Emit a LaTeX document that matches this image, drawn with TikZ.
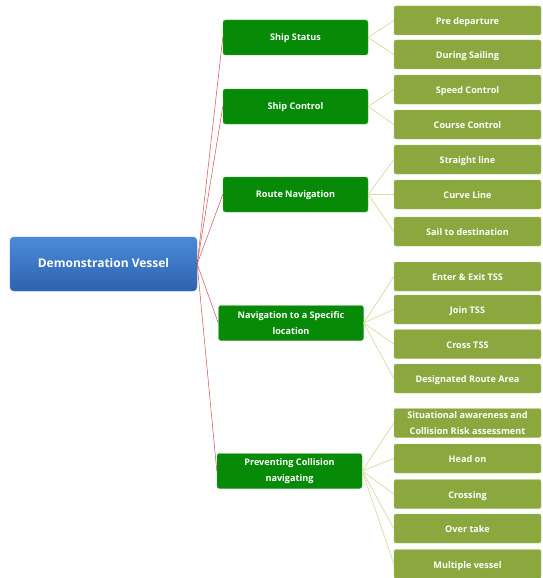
\documentclass[tikz,border=0pt]{standalone}
\usepackage{fontspec}
\setmainfont{Open Sans}
\definecolor{rootTop}{HTML}{4A8BDA}
\definecolor{rootBot}{HTML}{2D62AE}
\definecolor{rootEdge}{HTML}{3A74C4}
\definecolor{midgreen}{HTML}{078A07}
\definecolor{midedge}{HTML}{3FA83F}
\definecolor{leafgreen}{HTML}{8BA83F}
\definecolor{leafedge}{HTML}{A6BE66}
\definecolor{redline}{HTML}{D05050}
\definecolor{greenline}{HTML}{D4DCA0}
\tikzset{
  rootbox/.style={rounded corners=4pt, top color=rootTop, bottom color=rootBot, draw=rootEdge,
    minimum width=187pt, minimum height=54pt, text=white, inner sep=0pt,
    text height=8.5pt, text depth=2pt,
    font=\bfseries\fontsize{12}{14}\selectfont},
  midbox/.style={fill=midgreen, draw=midedge, rounded corners=2.5pt, minimum width=145pt,
    minimum height=35pt, text=white, align=center, inner sep=0pt,
    font=\bfseries\fontsize{9.1}{15.5}\selectfont},
  leafbox/.style={fill=leafgreen, draw=leafedge, rounded corners=2pt, minimum width=147pt,
    minimum height=29pt, text=white, align=center, inner sep=0pt,
    font=\bfseries\fontsize{9.1}{15.5}\selectfont},
  midline/.style={text height=6.5pt, text depth=1pt},
  leafline/.style={text height=8.5pt, text depth=0pt},
  rootlink/.style={draw=redline, line width=0.5pt},
  leaflink/.style={draw=greenline, line width=0.7pt}
}
\begin{document}
\begin{tikzpicture}[x=1pt,y=-1pt]
\useasboundingbox (0,0) rectangle (542,578);
\node[rootbox] (root) at (103.5,264) {Demonstration Vessel};

\node[midbox,midline] (m1) at (295.5,37.5) {Ship Status};
\node[midbox,midline] (m2) at (295.5,106.5) {Ship Control};
\node[midbox,midline] (m3) at (295.5,194.5) {Route Navigation};
\node[midbox] (m4) at (291,323) {Navigation to a Specific\\location};
\node[midbox] (m5) at (289.5,471) {Preventing Collision\\navigating};

\node[leafbox,leafline] (l1) at (467.5,20.5) {Pre departure};
\node[leafbox,leafline] (l2) at (467.5,54.5) {During Sailing};
\node[leafbox,leafline] (l3) at (467.5,89.5) {Speed Control};
\node[leafbox,leafline] (l4) at (467.5,124.5) {Course Control};
\node[leafbox,leafline] (l5) at (467.5,159.5) {Straight line};
\node[leafbox,leafline] (l6) at (467.5,194.5) {Curve Line};
\node[leafbox,leafline] (l7) at (467.5,231.5) {Sail to destination};
\node[leafbox,leafline] (l8) at (467.5,276.5) {Enter \& Exit TSS};
\node[leafbox,leafline] (l9) at (467.5,309.5) {Join TSS};
\node[leafbox,leafline] (l10) at (467.5,344) {Cross TSS};
\node[leafbox,leafline] (l11) at (467.5,378.5) {Designated Route Area};
\node[leafbox] (l12) at (467.5,423) {Situational awareness and\\Collision Risk assessment};
\node[leafbox,leafline] (l13) at (467.5,458.5) {Head on};
\node[leafbox,leafline] (l14) at (467.5,494) {Crossing};
\node[leafbox,leafline] (l15) at (467.5,528.5) {Over take};
\node[leafbox,leafline] (l16) at (467.5,564) {Multiple vessel};

\begin{scope}[on background layer/.try]
\foreach \m in {m1,m2,m3,m4,m5} \draw[rootlink] (root.east) -- (\m.west);
\foreach \l in {l1,l2} \draw[leaflink] (m1.east) -- (\l.west);
\foreach \l in {l3,l4} \draw[leaflink] (m2.east) -- (\l.west);
\foreach \l in {l5,l6,l7} \draw[leaflink] (m3.east) -- (\l.west);
\foreach \l in {l8,l9,l10,l11} \draw[leaflink] (m4.east) -- (\l.west);
\foreach \l in {l12,l13,l14,l15,l16} \draw[leaflink] (m5.east) -- (\l.west);
\end{scope}
\end{tikzpicture}
\end{document}
